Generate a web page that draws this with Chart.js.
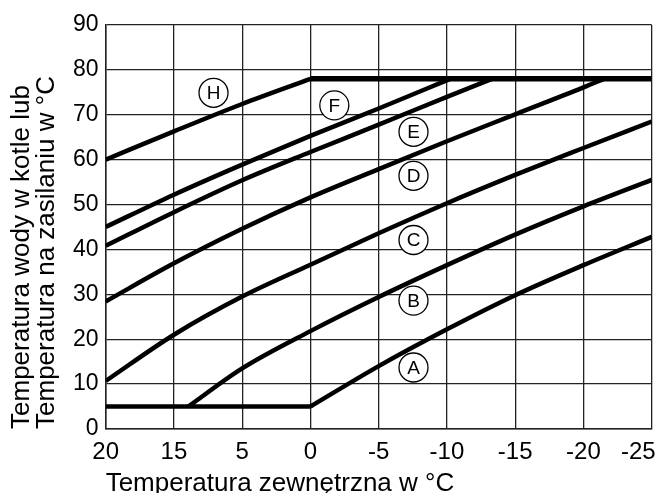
<!DOCTYPE html>
<html lang="pl">
<head>
  <meta charset="UTF-8" />
  <title>Krzywe grzewcze</title>
  <script src="https://cdn.jsdelivr.net/npm/chart.js"></script>
  <style>
    html, body { margin: 0; padding: 0; background: #fff; }
  </style>
</head>
<body>
  <canvas id="curveChart" width="661" height="493"></canvas>

  <script>
    // x positions are gridline indexes: 0 = "20" ... 8 = "-25"
    const xTickLabels = ["20", "15", "5", "0", "-5", "-10", "-15", "-20", "-25"];
    const yTicks = [0, 10, 20, 30, 40, 50, 60, 70, 80, 90];

    const curveH_x = [0, 1, 2, 3];
    const curveH_y = [60, 66.3, 72.4, 78];
    const curveF_x = [0, 1, 2, 3, 4, 5.05];
    const curveF_y = [45, 52.2, 58.9, 65.3, 71.4, 78];
    const curveE_x = [0, 1, 2, 3, 4, 5, 5.66];
    const curveE_y = [40.8, 48.3, 55.4, 61.7, 67.8, 74.0, 78];
    const curveD_x = [0, 1, 2, 3, 4, 5, 6, 7, 7.3];
    const curveD_y = [28.4, 36.9, 44.6, 51.6, 57.9, 64.1, 70.1, 76.1, 78];
    const curveC_x = [0, 1, 2, 3, 4, 5, 6, 7, 8];
    const curveC_y = [10.7, 21.0, 29.5, 36.6, 43.6, 50.3, 56.6, 62.6, 68.5];
    const curveB_x = [1.21, 2, 3, 4, 5, 6, 7, 8];
    const curveB_y = [5, 13.5, 21.8, 29.4, 36.5, 43.3, 49.6, 55.5];
    const curveA_x = [3, 4, 5, 6, 7, 8];
    const curveA_y = [5, 14.0, 22.2, 29.8, 36.5, 42.8];

    // upper and lower limits
    const maxLine_x = [3, 8];
    const maxLine_y = [78, 78];
    const minLine_x = [0, 3];
    const minLine_y = [5, 5];

    // circled curve letters
    const curveLetters = ["H", "F", "E", "D", "C", "B", "A"];
    const letterX = [1.58, 3.35, 4.51, 4.51, 4.51, 4.51, 4.51];
    const letterY = [74.9, 72.1, 66.2, 56.4, 42.1, 28.6, 13.7];

    const FONT = "'Liberation Sans', Arial, sans-serif";
    const gridColor = "#222";

    const toPoints = (xs, ys) => xs.map((x, i) => ({ x, y: ys[i] }));

    const lineSet = (xs, ys, width = 4.5) => ({
      type: "line",
      data: toPoints(xs, ys),
      borderColor: "#000",
      borderWidth: width,
      pointRadius: 0,
      fill: false,
      cubicInterpolationMode: "monotone",
      borderJoinStyle: "round",
      order: 1
    });

    const letterText = {
      id: "letterText",
      afterDatasetsDraw(chart) {
        const meta = chart.getDatasetMeta(0);
        const ctx = chart.ctx;
        ctx.save();
        ctx.fillStyle = "#000";
        ctx.font = `19px ${FONT}`;
        ctx.textAlign = "center";
        ctx.textBaseline = "middle";
        meta.data.forEach((pt, i) => {
          ctx.fillText(curveLetters[i], pt.x, pt.y + 1);
        });
        ctx.restore();
      }
    };

    Chart.defaults.font.family = FONT;
    Chart.defaults.color = "#000";

    new Chart(document.getElementById("curveChart").getContext("2d"), {
      type: "scatter",
      data: {
        datasets: [
          {
            type: "scatter",
            data: toPoints(letterX, letterY),
            pointRadius: 14.5,
            pointBackgroundColor: "#fff",
            pointBorderColor: "#000",
            pointBorderWidth: 1.3,
            order: 0
          },
          lineSet(maxLine_x, maxLine_y, 5.5),
          lineSet(minLine_x, minLine_y, 4.5),
          lineSet(curveH_x, curveH_y),
          lineSet(curveF_x, curveF_y),
          lineSet(curveE_x, curveE_y),
          lineSet(curveD_x, curveD_y),
          lineSet(curveC_x, curveC_y),
          lineSet(curveB_x, curveB_y),
          lineSet(curveA_x, curveA_y)
        ]
      },
      options: {
        responsive: false,
        devicePixelRatio: 1,
        animation: false,
        layout: { autoPadding: false, padding: { top: 25, right: 9.3, bottom: 0, left: 0 } },
        plugins: {
          legend: { display: false },
          tooltip: { enabled: false }
        },
        scales: {
          x: {
            type: "linear",
            min: 0,
            max: xTickLabels.length - 1,
            afterBuildTicks: axis => { axis.ticks = xTickLabels.map((_, i) => ({ value: i })); },
            afterFit: axis => { axis.paddingRight = 0; },
            grid: { color: gridColor, lineWidth: 1.3, drawTicks: false },
            border: { color: gridColor, width: 1.5 },
            ticks: {
              autoSkip: false,
              maxRotation: 0,
              padding: 8.5,
              font: { size: 24 },
              // last label is pushed left so it stays inside the picture
              callback: v => v === xTickLabels.length - 1 ? xTickLabels[v] + "    " : xTickLabels[v]
            },
            title: {
              display: true,
              text: "Temperatura zewnętrzna w °C",
              align: "start",
              font: { size: 26, lineHeight: 0.67 },
              padding: { top: 0.8, bottom: 0 }
            }
          },
          y: {
            type: "linear",
            min: yTicks[0],
            max: yTicks[yTicks.length - 1],
            afterBuildTicks: axis => { axis.ticks = yTicks.map(v => ({ value: v })); },
            grid: { color: gridColor, lineWidth: 1.3, drawTicks: false },
            border: { color: gridColor, width: 1.5 },
            ticks: { padding: 7, font: { size: 23 } },
            title: {
              display: true,
              text: ["Temperatura wody w kotle lub", "Temperatura na zasilaniu w °C"],
              align: "start",
              font: { size: 26, lineHeight: 0.94 },
              padding: { top: 10, bottom: 7.2 }
            }
          }
        }
      },
      plugins: [letterText]
    });
  </script>
</body>
</html>
